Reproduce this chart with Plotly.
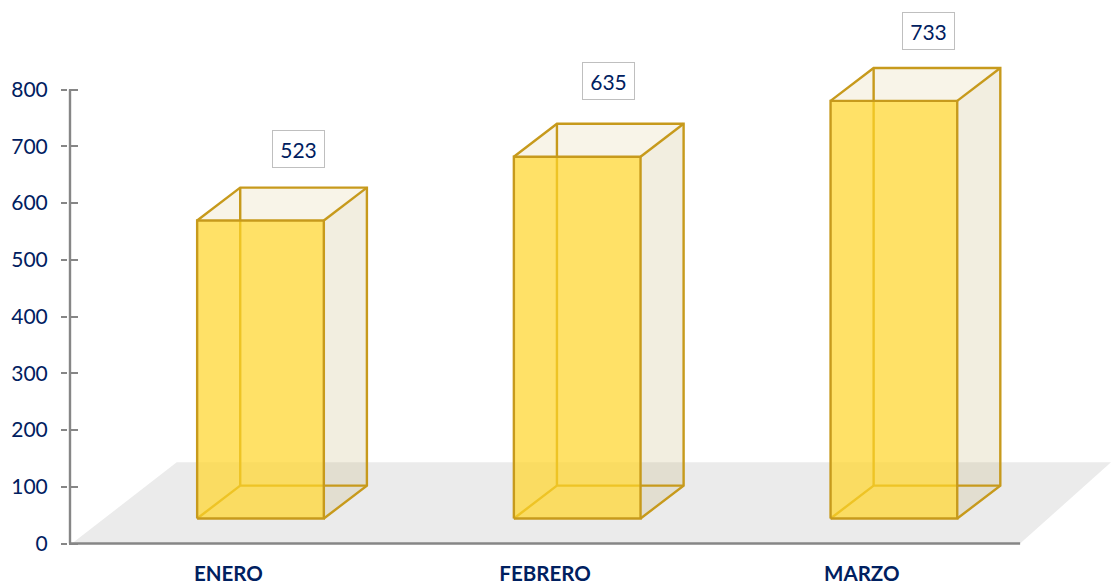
import plotly.graph_objects as go

# Data
CATEGORIES = ["ENERO", "FEBRERO", "MARZO"]
VALUES = [523, 635, 733]
Y_TICKS = [0, 100, 200, 300, 400, 500, 600, 700, 800]

# Style / geometry constants (category units on x, value units on y)
W, H = 1111, 582
BAR_SHIFT = 0.1015
HALF_W = 0.2
DEPTH_X = 0.136
DEPTH_Y = 58
BASE = 44
HEIGHT_SCALE = 1.004
LABEL_DX = [0.223, 0.20, 0.212]
LABEL_DY = [172, 179.5, 169.5]
EDGE = "#C79A1C"
HIDDEN = "#BE8E00"
AXIS = "#868686"
NAVY = "#002060"
FONT = "Lato"
X_RANGE = [-0.5063, 2.787]
Y_RANGE = [-4.4, 957.7]


def poly(xs, ys, fill=None, line=None, width=2.4):
    return go.Scatter(
        x=xs, y=ys, mode="lines", hoverinfo="skip",
        showlegend=False,
        fill="toself" if fill else None,
        fillcolor=fill,
        line=dict(color=line or "rgba(0,0,0,0)", width=width if line else 0),
    )


fig = go.Figure()

# Floor
fig.add_trace(poly(
    [-0.494, -0.163, 2.787, 2.5, -0.494],
    [0, 143, 143, 0, 0],
    fill="#EBEBEB",
))

for i, v in enumerate(VALUES):
    c = i + BAR_SHIFT
    l, r = c - HALF_W, c + HALF_W
    b, t = BASE, BASE + v * HEIGHT_SCALE
    dx, dy = DEPTH_X, DEPTH_Y
    # Top face
    fig.add_trace(poly([l, l + dx, r + dx, r, l], [t, t + dy, t + dy, t, t],
                       fill="rgba(222,205,150,0.22)"))
    # Right face
    fig.add_trace(poly([r, r + dx, r + dx, r, r], [b, b + dy, t + dy, t, b],
                       fill="rgba(190,170,100,0.2)"))
    # Hidden edges, seen through the front face
    fig.add_trace(poly([l, l + dx, r], [b, b + dy, b + dy], line=HIDDEN))
    fig.add_trace(poly([l + dx, l + dx], [b + dy, t], line=HIDDEN))
    # Front face
    fig.add_trace(poly([l, r, r, l, l], [b, b, t, t, b],
                       fill="rgba(255,214,50,0.74)", line=EDGE))
    # Outer visible edges
    fig.add_trace(poly([r, r + dx, r + dx, l + dx, l],
                       [b, b + dy, t + dy, t + dy, t], line=EDGE))
    fig.add_trace(poly([r, r + dx], [t, t + dy], line=EDGE))
    fig.add_trace(poly([r, r + dx], [b + dy, b + dy], line=EDGE))
    fig.add_trace(poly([l + dx, l + dx], [t, t + dy], line=EDGE))

# Axis lines
fig.add_trace(poly([-0.5, 2.5], [0, 0], line=AXIS))
fig.add_trace(poly([-0.5, -0.5], [0, Y_TICKS[-1]], line=AXIS))

annotations = [
    dict(
        x=i + LABEL_DX[i], y=v + LABEL_DY[i], text=str(v),
        showarrow=False, xref="x", yref="y",
        bgcolor="#FFFFFF", bordercolor="#BFBFBF", borderwidth=1, borderpad=1,
        width=49, height=34,
        font=dict(family=FONT, size=21, color=NAVY),
    )
    for i, v in enumerate(VALUES)
]

fig.update_layout(
    width=W, height=H,
    margin=dict(l=68, r=0, t=0, b=36, autoexpand=False),
    paper_bgcolor="#FFFFFF", plot_bgcolor="rgba(0,0,0,0)",
    showlegend=False,
    annotations=annotations,
    xaxis=dict(
        range=X_RANGE, tickmode="array",
        tickvals=list(range(len(CATEGORIES))), ticktext=CATEGORIES,
        showgrid=False, zeroline=False, showline=False,
        ticks="", ticklabelstandoff=13, automargin=False,
        tickfont=dict(family=FONT, size=20.5, color=NAVY, weight="bold"),
    ),
    yaxis=dict(
        range=Y_RANGE, tickmode="array", tickvals=Y_TICKS,
        showgrid=False, zeroline=False, showline=False, automargin=False,
        ticks="outside", ticklen=6, tickwidth=2, tickcolor=AXIS,
        ticklabelstandoff=9,
        tickfont=dict(family=FONT, size=21, color=NAVY),
    ),
    yaxis2=dict(
        range=Y_RANGE, tickmode="array", tickvals=Y_TICKS,
        overlaying="y", side="right", anchor="free", position=0,
        showgrid=False, zeroline=False, showline=False, automargin=False,
        ticks="outside", ticklen=9, tickwidth=2, tickcolor=AXIS,
        showticklabels=False,
    ),
)
fig.add_trace(go.Scatter(x=[0], y=[0], yaxis="y2", mode="markers",
                         marker=dict(opacity=0), hoverinfo="skip", showlegend=False))

fig.write_html("out.html", config=dict(displayModeBar=False),
               post_script="document.body.style.margin='0';")
